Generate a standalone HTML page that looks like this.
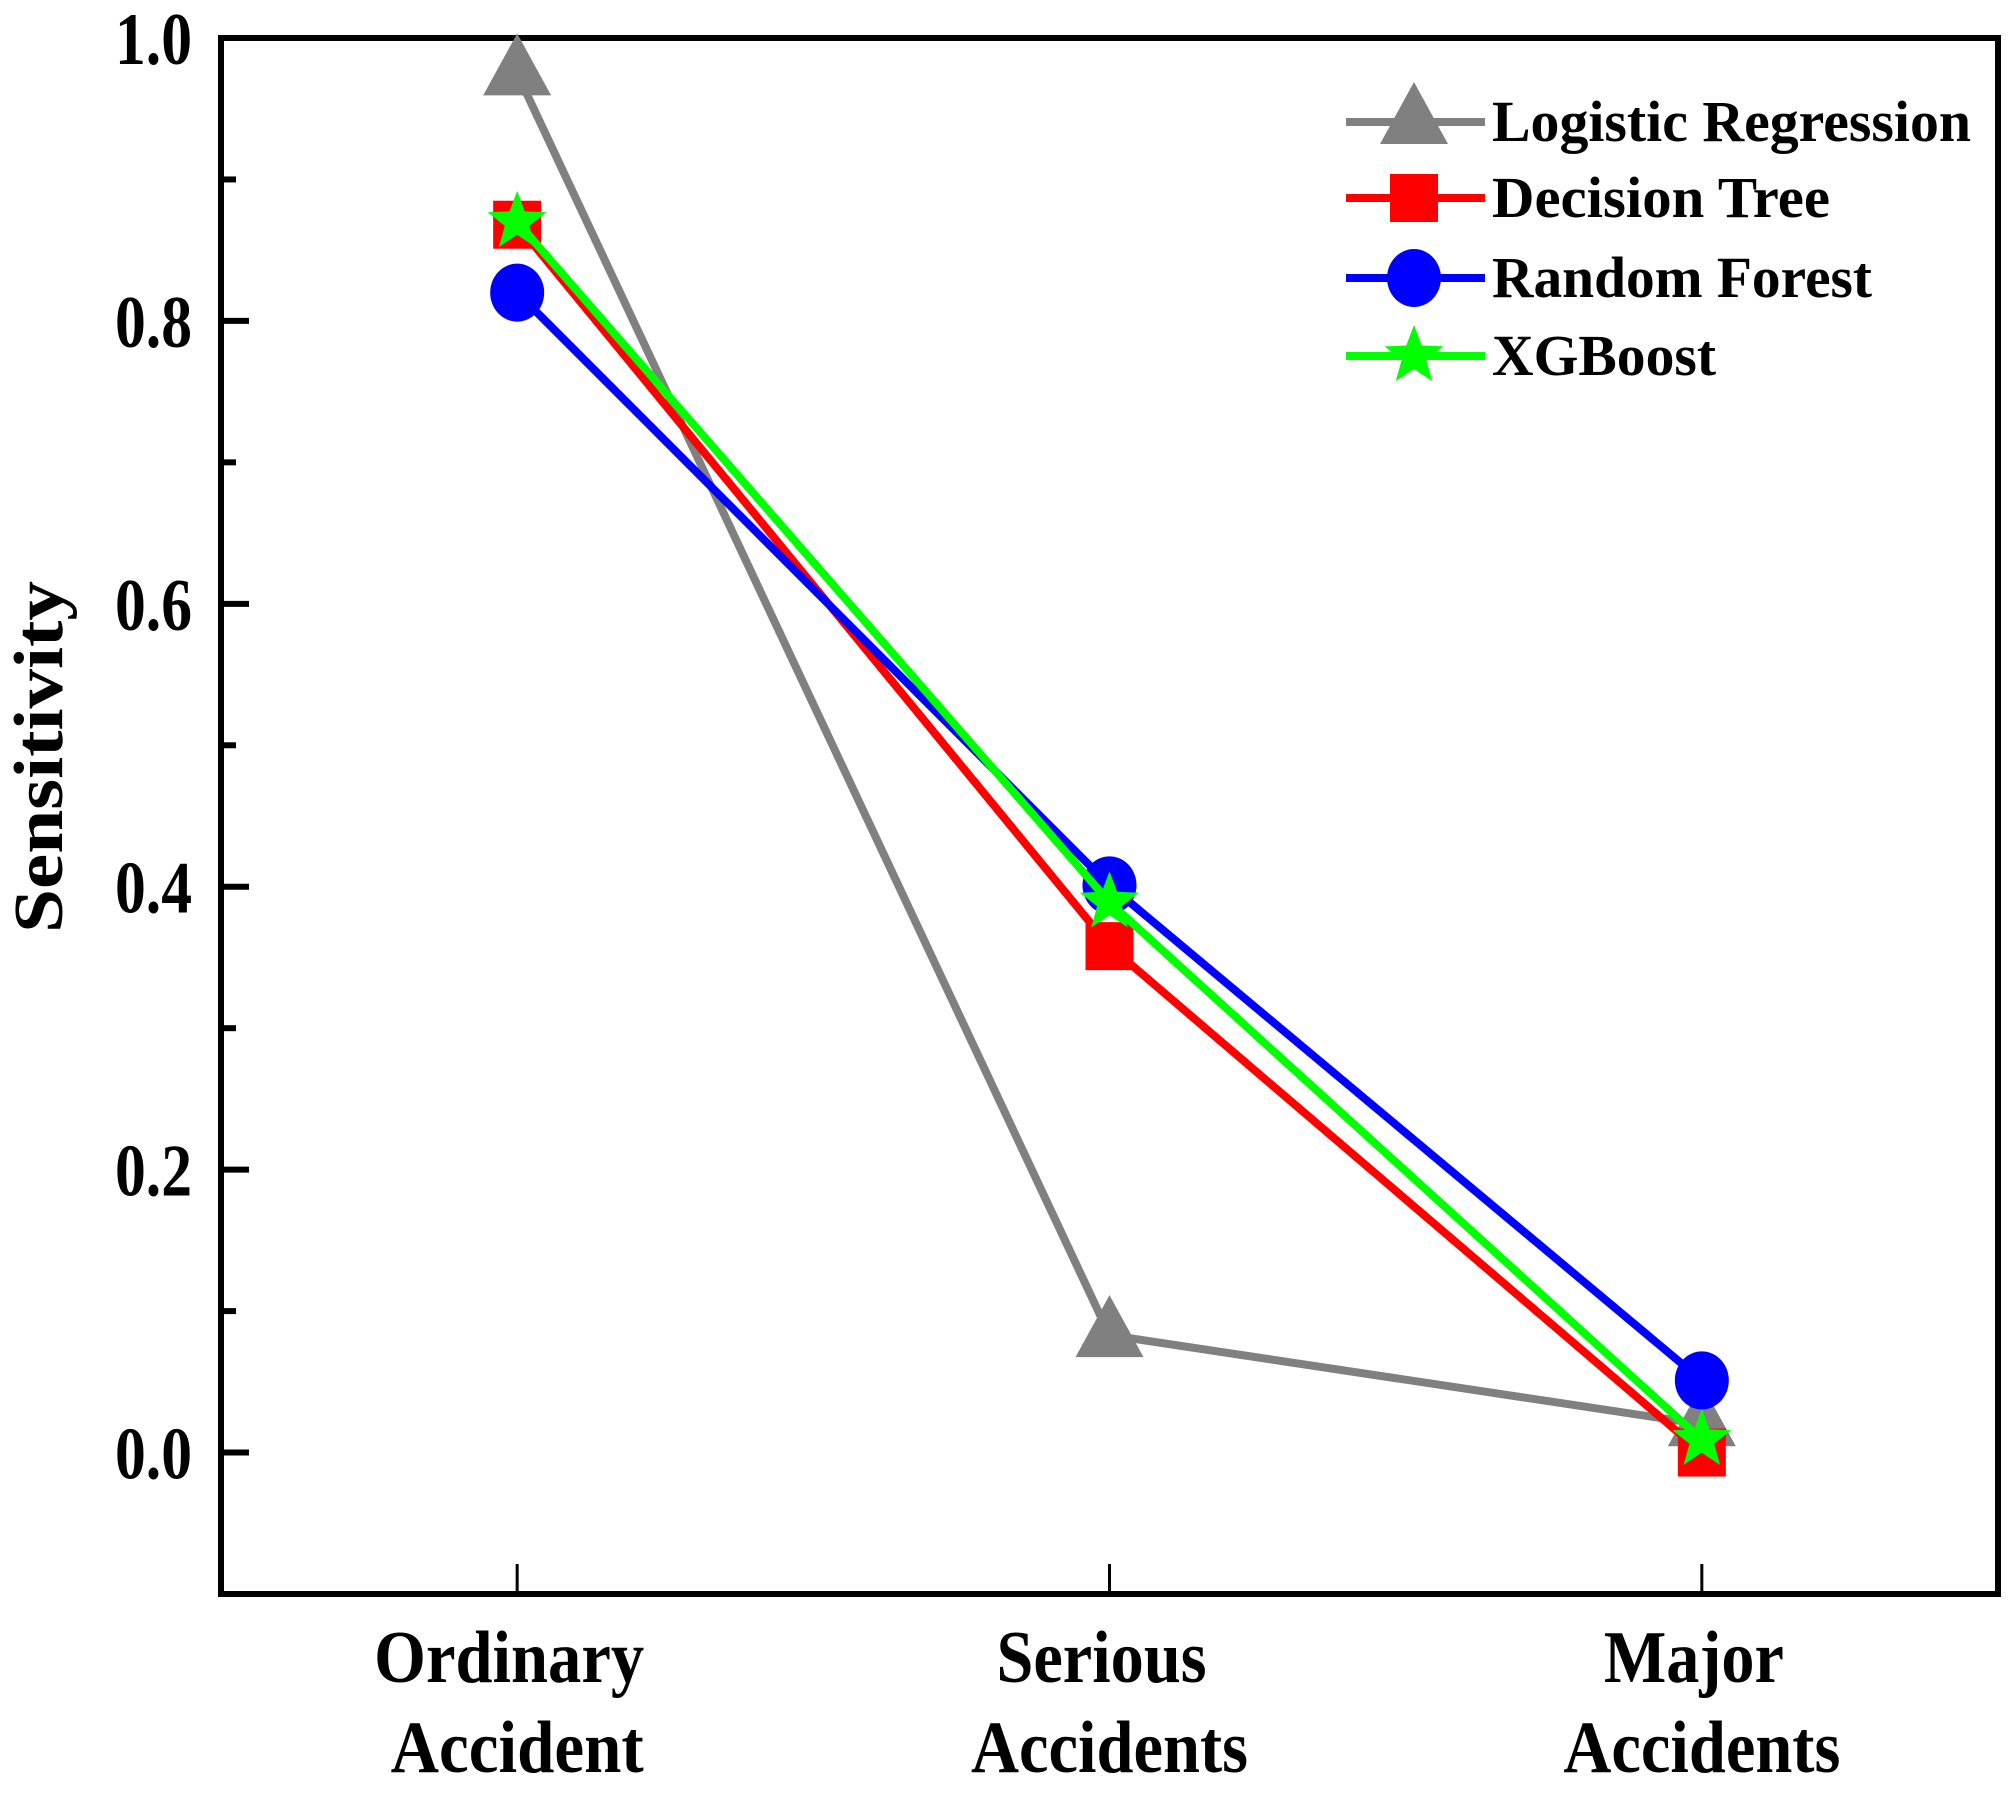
<!DOCTYPE html>
<html><head><meta charset="utf-8"><style>
html,body{margin:0;padding:0;background:#fff;}
svg{display:block;}
text{font-family:"Liberation Serif",serif;font-weight:bold;fill:#000;}
</style></head><body>
<svg id="chart" width="2011" height="1794" viewBox="0 0 2011 1794" xmlns="http://www.w3.org/2000/svg"></svg>
<script>
const categories = ["Ordinary|Accident", "Serious|Accidents", "Major|Accidents"];
const seriesNames = ["Logistic Regression", "Decision Tree", "Random Forest", "XGBoost"];
const lrValues = [0.975, 0.083, 0.02];
const dtValues = [0.868, 0.358, 0.0];
const rfValues = [0.82, 0.401, 0.051];
const xgbValues = [0.87, 0.389, 0.009];
const yTickLabels = ["0.0", "0.2", "0.4", "0.6", "0.8", "1.0"];
const yTickValues = [0, 0.2, 0.4, 0.6, 0.8, 1.0];
const yMinorValues = [0.1, 0.3, 0.5, 0.7, 0.9];

const NS = "http://www.w3.org/2000/svg";
const svg = document.getElementById("chart");
const L = 221, R = 1998, T = 38, B = 1594;
const yMin = -0.1, yMax = 1.0;
function yScale(v){ return B - (v - yMin) / (yMax - yMin) * (B - T); }
function xScale(i){ return L + (i + 0.5) / 3 * (R - L); }
function mk(tag, attrs, parent){
  const e = document.createElementNS(NS, tag);
  for (const k in attrs) e.setAttribute(k, attrs[k]);
  (parent || svg).appendChild(e);
  return e;
}
function starPts(cx, cy, r){
  let p = [];
  for (let k = 0; k < 10; k++){
    const a = -Math.PI/2 + k*Math.PI/5;
    const rr = k % 2 ? r*0.42 : r;
    p.push((cx + rr*Math.cos(a)).toFixed(1) + "," + (cy + rr*Math.sin(a)).toFixed(1));
  }
  return p.join(" ");
}
function marker(type, cx, cy, color, parent){
  let e;
  if (type === "tri") e = mk("polygon", {points: `${cx},${cy-40} ${cx-34},${cy+22} ${cx+34},${cy+22}`, fill: color}, parent);
  else if (type === "sq") e = mk("rect", {x: cx-24, y: cy-24, width: 48, height: 48, fill: color}, parent);
  else if (type === "circ") e = mk("ellipse", {cx: cx, cy: cy, rx: 27, ry: 29, fill: color}, parent);
  else e = mk("polygon", {points: starPts(cx, cy, 31), fill: color}, parent);
  return e;
}

const frame = mk("rect", {x: L, y: T, width: R-L, height: B-T, fill: "none", stroke: "#000", "stroke-width": 6});



yTickValues.forEach((v, i) => {
  const y = yScale(v);
  const t = mk("line", {x1: L, x2: L+28, y1: y, y2: y, stroke: "#000", "stroke-width": 6});
  
  
  const lb = mk("text", {x: 192, y: y + 26, "text-anchor": "end", "font-size": 74, textLength: 77, lengthAdjust: "spacingAndGlyphs"});
  lb.textContent = yTickLabels[i];
  
  
});
yMinorValues.forEach(v => {
  const y = yScale(v);
  const t = mk("line", {x1: L, x2: L+15, y1: y, y2: y, stroke: "#000", "stroke-width": 6});
  
  
});

const xlW = [[270, 253], [210, 277], [180, 277]];
categories.forEach((c, i) => {
  const x = xScale(i);
  const t = mk("line", {x1: x, x2: x, y1: B, y2: B-30, stroke: "#000", "stroke-width": 3});
  
  
  const parts = c.split("|");
  parts.forEach((p, j) => {
    const lb = mk("text", {x: x - (j === 0 ? 8 : 0), y: j === 0 ? 1682 : 1772, "text-anchor": "middle", "font-size": 74, textLength: xlW[i][j], lengthAdjust: "spacingAndGlyphs"});
    lb.textContent = p;
    
    
  });
});

const yt = mk("text", {x: 0, y: 0, transform: "translate(62,757) rotate(-90)", "text-anchor": "middle", "font-size": 70, textLength: 352, lengthAdjust: "spacingAndGlyphs"});
yt.textContent = "Sensitivity";



const series = [
  {vals: lrValues, color: "#808080", m: "tri", name: "logistic-regression"},
  {vals: dtValues, color: "#ff0000", m: "sq", name: "decision-tree"},
  {vals: rfValues, color: "#0000ff", m: "circ", name: "random-forest"},
  {vals: xgbValues, color: "#00ff00", m: "star", name: "xgboost"}
];
series.forEach(s => {
  const g = mk("g", {});
  
  
  const pts = s.vals.map((v, i) => xScale(i) + "," + yScale(v)).join(" ");
  const pl = mk("polyline", {points: pts, fill: "none", stroke: s.color, "stroke-width": 8}, g);
  
  
  s.vals.forEach((v, i) => {
    const e = marker(s.m, xScale(i), yScale(v), s.color, g);
    
    
  });
});

const legRows = [122, 198, 278, 356];
const legW = [479, 338, 380, 224];
const lg = mk("g", {});


series.forEach((s, i) => {
  const y = legRows[i];
  const ln = mk("line", {x1: 1346, x2: 1485, y1: y, y2: y, stroke: s.color, "stroke-width": 8}, lg);
  
  
  const m = marker(s.m, 1414, y, s.color, lg);
  
  
  const tx = mk("text", {x: 1492, y: y + 19, "font-size": 58, textLength: legW[i], lengthAdjust: "spacingAndGlyphs"}, lg);
  tx.textContent = seriesNames[i];
  
  
});
</script>
</body></html>
